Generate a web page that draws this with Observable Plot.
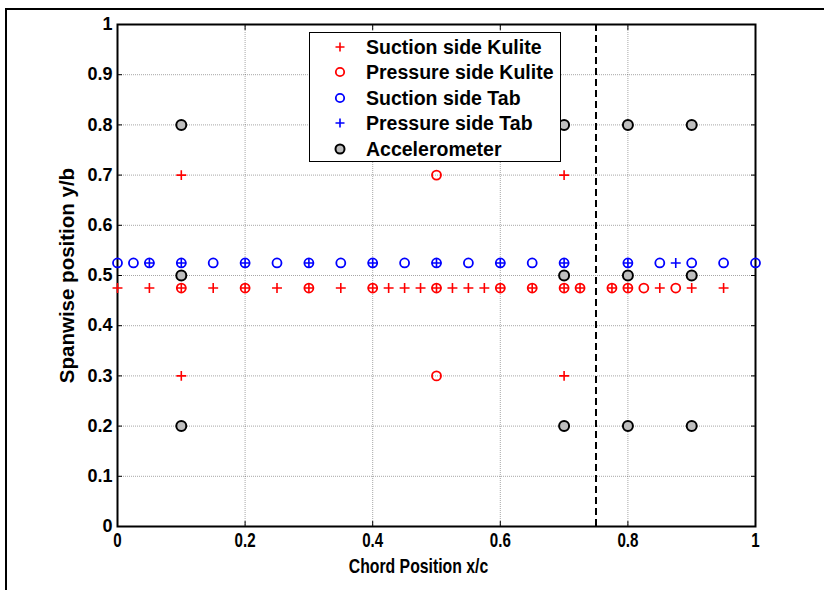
<!DOCTYPE html>
<html>
<head>
<meta charset="utf-8">
<script src="https://cdn.jsdelivr.net/npm/d3@7"></script>
<script src="https://cdn.jsdelivr.net/npm/@observablehq/plot@0.6"></script>
<style>
  html, body { margin: 0; padding: 0; background: #fff; }
  #wrap { position: relative; width: 824px; height: 590px; overflow: hidden; }
  #outer { position: absolute; left: 5px; top: 8px; width: 830px; height: 600px;
           border-top: 2px solid #000; border-left: 2px solid #000; pointer-events: none; }
  #legend { position: absolute; left: 309px; top: 32px; width: 252px; height: 130px;
            border: 1px solid #000; background: #fff; box-sizing: border-box;
            font-family: "Liberation Sans", Arial, sans-serif; font-weight: bold; font-size: 19.5px; }
  .row { position: absolute; left: 0; height: 25px; }
  .row svg { position: absolute; left: 22px; top: 4px; }
  .row span { position: absolute; left: 56px; top: 0; white-space: nowrap; line-height: 25px; }
</style>
</head>
<body>
<div id="wrap">
  <div id="chart"></div>
  <div id="outer"></div>
  <div id="legend"></div>
</div>
<script>
// ---- data ----
const xTicks = [0, 0.2, 0.4, 0.6, 0.8, 1];
const yTicks = [0, 0.1, 0.2, 0.3, 0.4, 0.5, 0.6, 0.7, 0.8, 0.9, 1];
const dashedX = [0.75];

const seriesNames = ["Suction side Kulite", "Pressure side Kulite", "Suction side Tab", "Pressure side Tab", "Accelerometer"];

const suctionKuliteX = [0, 0.05, 0.1, 0.15, 0.2, 0.25, 0.3, 0.35, 0.4, 0.425, 0.45, 0.475, 0.5, 0.525, 0.55, 0.575, 0.6, 0.65, 0.7, 0.725, 0.775, 0.8, 0.85, 0.9, 0.95, 0.1, 0.7, 0.1, 0.7];
const suctionKuliteY = [0.475, 0.475, 0.475, 0.475, 0.475, 0.475, 0.475, 0.475, 0.475, 0.475, 0.475, 0.475, 0.475, 0.475, 0.475, 0.475, 0.475, 0.475, 0.475, 0.475, 0.475, 0.475, 0.475, 0.475, 0.475, 0.7, 0.7, 0.3, 0.3];

const pressureKuliteX = [0.1, 0.2, 0.3, 0.4, 0.5, 0.6, 0.65, 0.7, 0.725, 0.775, 0.8, 0.825, 0.875, 0.5, 0.5];
const pressureKuliteY = [0.475, 0.475, 0.475, 0.475, 0.475, 0.475, 0.475, 0.475, 0.475, 0.475, 0.475, 0.475, 0.475, 0.7, 0.3];

const suctionTabX = [0, 0.025, 0.05, 0.1, 0.15, 0.2, 0.25, 0.3, 0.35, 0.4, 0.45, 0.5, 0.55, 0.6, 0.65, 0.7, 0.8, 0.85, 0.9, 0.95, 1.0];
const suctionTabY = [0.525, 0.525, 0.525, 0.525, 0.525, 0.525, 0.525, 0.525, 0.525, 0.525, 0.525, 0.525, 0.525, 0.525, 0.525, 0.525, 0.525, 0.525, 0.525, 0.525, 0.525];

const pressureTabX = [0.05, 0.1, 0.2, 0.3, 0.4, 0.5, 0.6, 0.7, 0.8, 0.875];
const pressureTabY = [0.525, 0.525, 0.525, 0.525, 0.525, 0.525, 0.525, 0.525, 0.525, 0.525];

const accelX = [0.1, 0.1, 0.1, 0.7, 0.7, 0.7, 0.8, 0.8, 0.8, 0.9, 0.9, 0.9];
const accelY = [0.8, 0.5, 0.2, 0.8, 0.5, 0.2, 0.8, 0.5, 0.2, 0.8, 0.5, 0.2];

// ---- build tables ----
const zip = (xs, ys) => xs.map((x, i) => ({x, y: ys[i]}));
const sk = zip(suctionKuliteX, suctionKuliteY);
const pk = zip(pressureKuliteX, pressureKuliteY);
const st = zip(suctionTabX, suctionTabY);
const pt = zip(pressureTabX, pressureTabY);
const ac = zip(accelX, accelY);

const gridStyle = {stroke: "#000", strokeOpacity: 0.35, strokeDasharray: "1,1"};

const chart = Plot.plot({
  width: 824,
  height: 590,
  marginLeft: 117,
  marginRight: 69,
  marginTop: 24,
  marginBottom: 64,
  x: {domain: [0, 1]},
  y: {domain: [0, 1]},
  style: {fontFamily: "'Liberation Sans', Arial, sans-serif", fontWeight: "bold", fontSize: "18px", color: "#000", background: "transparent"},
  marks: [
    Plot.gridX(xTicks, gridStyle),
    Plot.gridY(yTicks, gridStyle),
    Plot.ruleX(dashedX, {stroke: "#000", strokeWidth: 2, strokeDasharray: "7,4"}),
    // tick marks (inward) on all four sides
    Plot.axisX(xTicks, {anchor: "bottom", tickSize: -5, tickFormat: () => "", label: null}),
    Plot.axisX(xTicks, {anchor: "top", tickSize: -5, tickFormat: () => "", label: null}),
    Plot.axisY(yTicks, {anchor: "left", tickSize: -5, tickFormat: () => "", label: null}),
    Plot.axisY(yTicks, {anchor: "right", tickSize: -5, tickFormat: () => "", label: null}),
    // labels
    Plot.axisX(xTicks, {anchor: "bottom", tickSize: 0, tickPadding: 6, tickFormat: d => String(d),
      label: "Chord Position x/c", labelAnchor: "center", labelArrow: "none", labelOffset: 46,
      ariaLabel: "xaxis"}),
    Plot.axisY(yTicks, {anchor: "left", tickSize: 0, tickPadding: 5, tickFormat: d => String(d),
      label: "Spanwise position y/b", labelAnchor: "center", labelArrow: "none", labelOffset: 58,
      ariaLabel: "yaxis"}),
    Plot.frame({stroke: "#000", strokeWidth: 2}),
    Plot.dot(sk, {x: "x", y: "y", symbol: "plus", r: 3.3, stroke: "#ff0000", strokeWidth: 1.6}),
    Plot.dot(pk, {x: "x", y: "y", symbol: "circle", r: 4.5, stroke: "#ff0000", strokeWidth: 1.8, fill: "none"}),
    Plot.dot(st, {x: "x", y: "y", symbol: "circle", r: 4.5, stroke: "#0000ff", strokeWidth: 1.8, fill: "none"}),
    Plot.dot(pt, {x: "x", y: "y", symbol: "plus", r: 3.3, stroke: "#0000ff", strokeWidth: 1.6}),
    Plot.dot(ac, {x: "x", y: "y", symbol: "circle", r: 5, stroke: "#000", strokeWidth: 2, fill: "#bebebe"})
  ]
});
document.getElementById("chart").appendChild(chart);

// text styling to match the reference (condensed x-axis texts, larger y label)
d3.select(chart).selectAll("g").filter(function() {
  const a = this.getAttribute("aria-label") || "";
  return a.startsWith("xaxis") || a === "x-axis label";
}).selectAll("text").each(function() {
  const tr = this.getAttribute("transform") || "";
  if (this.textContent.startsWith("Chord")) {
    this.style.fontSize = "20px";
    this.setAttribute("transform", tr + " translate(-18,0) scale(0.79,1)");
  } else {
    this.style.fontSize = "21px";
    this.setAttribute("transform", tr + " scale(0.72,1)");
  }
});
d3.select(chart).selectAll("text").each(function() {
  if (this.textContent.startsWith("Spanwise")) this.style.fontSize = "20.5px";
});

// ---- legend ----
const legendStyles = [
  {sym: "plus", stroke: "#ff0000", fill: "none", sw: 1.6},
  {sym: "circle", stroke: "#ff0000", fill: "none", sw: 1.8},
  {sym: "circle", stroke: "#0000ff", fill: "none", sw: 1.8},
  {sym: "plus", stroke: "#0000ff", fill: "none", sw: 1.6},
  {sym: "circle", stroke: "#000", fill: "#bebebe", sw: 2}
];
const legend = d3.select("#legend");
seriesNames.forEach((name, i) => {
  const row = legend.append("div").attr("class", "row").style("top", (2 + i * 25.4) + "px").style("width", "100%");
  const s = legendStyles[i];
  const svg = row.append("svg").attr("width", 16).attr("height", 16).attr("viewBox", "-8 -8 16 16");
  if (s.sym === "plus") {
    svg.append("path").attr("d", "M-4.5,0H4.5M0,-4.5V4.5").attr("stroke", s.stroke).attr("stroke-width", s.sw);
  } else {
    svg.append("circle").attr("r", s.sw === 2 ? 4.5 : 4.2).attr("stroke", s.stroke).attr("fill", s.fill).attr("stroke-width", s.sw);
  }
  row.append("span").text(name);
});
</script>
</body>
</html>
